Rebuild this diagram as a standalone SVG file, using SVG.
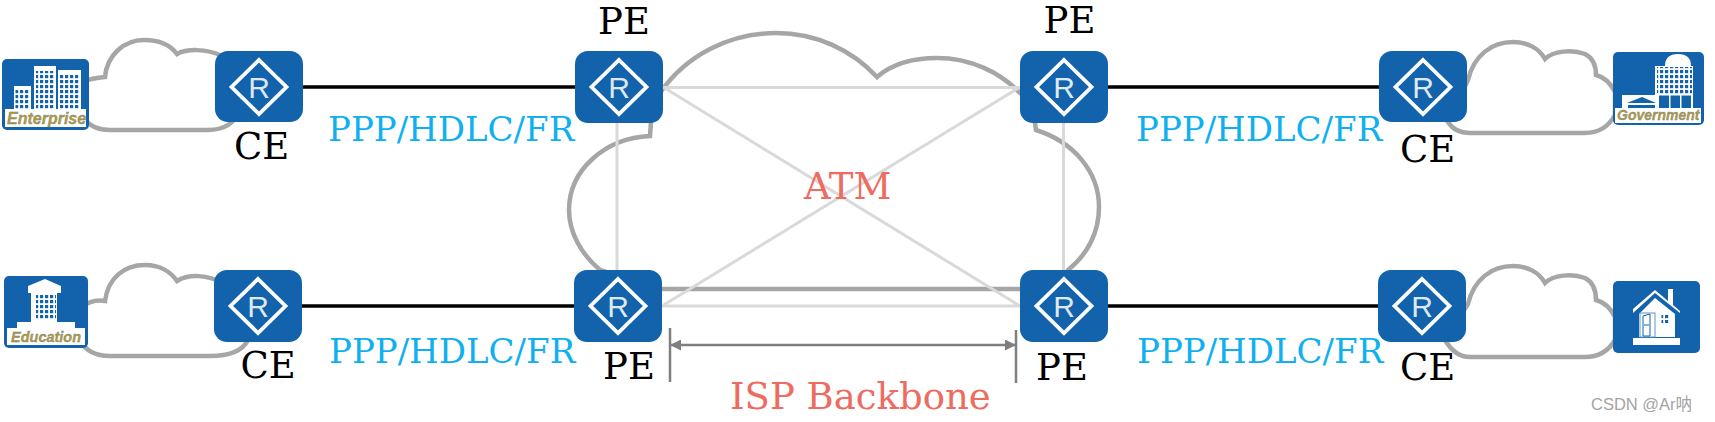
<svg xmlns="http://www.w3.org/2000/svg" width="1715" height="422" viewBox="0 0 1715 422">
<style>
.cloud{fill:#fff;stroke:#a6a6a6;stroke-width:4.5;stroke-linejoin:miter}
.wan{stroke:#000;stroke-width:3.5;fill:none}
.bb{stroke:#d9d9d9;stroke-width:3;fill:none}
.dim{stroke:#7f7f7f;stroke-width:2.500;fill:none}
.t{font-family:"DejaVu Serif",serif}
.role{font-size:37px;fill:#000}
.proto{font-size:34px;fill:#10b0f0}
.note{font-size:37px;fill:#ee6c5f}
.ib{fill:#1263ab}
.w{fill:#fff}
.cap{font-family:"Liberation Sans",Arial,sans-serif;font-weight:bold;font-style:italic;fill:#b49a3a;stroke:#6e7f90;stroke-width:.3}
.rd{fill:#1263ab;stroke:#fff;stroke-width:3.8}
.rl{font-family:"Liberation Sans",Arial,sans-serif;font-size:30px;fill:#dfe9f3;text-anchor:middle}
</style>
<defs>
<marker id="ah" viewBox="0 0 10 10" refX="10" refY="5" markerUnits="userSpaceOnUse" markerWidth="11" markerHeight="11" orient="auto-start-reverse"><path d="M0 0L10 5L0 10Z" fill="#7f7f7f"/></marker>
<pattern id="win" width="5" height="5" patternUnits="userSpaceOnUse"><rect width="3.2" height="3.2" fill="#1263ab"/></pattern>
</defs>
<rect width="1715" height="422" fill="#fff"/>

<g id="clouds">
<path class="cloud" d="M82 82Q92 78 105 77C107 55 124 40 144 40C160 40 171 46 177 54C186 49 206 48 222 56L240 110Q232 130 208 130L110 130Q92 130 84 118Z"/>
<path class="cloud" d="M82 307Q92 299 105 301C108 278 124 265 145 265C160 265 171 272 177 281C188 274 208 274 224 284L248 340Q240 356 210 356L110 356Q88 356 80 340Z"/>
<path class="cloud" d="M1468 80C1474 55 1492 42 1513 42C1527 42 1539 48 1545 59C1553 51 1572 49 1585 54C1593 58 1596 66 1596 75C1604 77 1611 84 1615 92L1615 115Q1605 133 1585 133L1470 133Q1455 133 1448 122Z"/>
<path class="cloud" d="M1468 304C1474 279 1492 266 1513 266C1527 266 1539 272 1545 283C1553 275 1572 273 1585 278C1593 282 1596 290 1596 300C1604 302 1611 309 1615 317L1615 340Q1605 357 1585 357L1470 357Q1455 357 1445 340Z"/>
<path class="cloud" d="M660 93C686 55 730 33 776 33C816 33 852 50 877 77C892 64 914 58 937 58C970 58 1000 72 1020 93L1045 110L1035 123L1036 130C1074 142 1099 172 1099 207C1099 233 1087 255 1068 270L1060 289L660 289L600 270C582 255 569 233 569 210C569 170 605 138 650 136L651 122L630 110Z"/>
</g>

<g id="connectors">
<path class="wan" d="M303 87H575M302 306H574M1108 87H1379M1108 306H1378"/>
<path class="bb" d="M663 87.500H1020M662 306H1020M617 123V270M1063.500 123V270M663 87L1020 306M1020 87L662 306"/>
<path class="dim" d="M670 328V382M1016 330V383"/>
<path class="dim" marker-start="url(#ah)" marker-end="url(#ah)" d="M670 345H1016"/>
</g>

<g id="icon-enterprise">
<rect class="ib" x="2" y="59" width="87" height="71" rx="5"/>
<rect class="w" x="14" y="86" width="17" height="26"/><rect fill="url(#win)" x="15.500" y="89" width="14" height="22"/>
<rect class="w" x="34" y="66" width="22" height="46"/><rect fill="url(#win)" x="36" y="71" width="19" height="40"/>
<rect class="w" x="58" y="70" width="23" height="42"/><rect fill="url(#win)" x="60" y="75" width="20" height="36"/>
<rect class="w" x="5" y="109" width="81" height="18"/>
<text class="cap" x="7" y="123.500" font-size="16">Enterprise</text>
</g>
<g id="icon-education">
<rect class="ib" x="4" y="276" width="84" height="72" rx="5"/>
<path class="w" d="M28 286L45 279L61 286V293H57V324H31V293H28Z"/>
<rect fill="url(#win)" x="36" y="295" width="20" height="24"/>
<rect class="w" x="17" y="322" width="58" height="6"/>
<rect class="w" x="7" y="328" width="78" height="17"/>
<text class="cap" x="11" y="342" font-size="14.500">Education</text>
</g>
<g id="icon-government">
<rect class="ib" x="1613" y="52" width="91" height="73" rx="5"/>
<path class="w" d="M1665 66Q1665 54 1678 54Q1691 54 1691 66H1693V110H1655V66Z"/>
<rect fill="url(#win)" x="1657" y="67" width="35" height="28"/>
<rect class="w" x="1622" y="95" width="36" height="20"/>
<path class="ib" d="M1627 103L1642 97L1656 103Z"/><rect class="ib" x="1628" y="105" width="27" height="8"/>
<rect class="ib" x="1659" y="95" width="32" height="17"/><rect class="w" x="1658" y="94" width="33" height="1.500"/><rect class="w" x="1669" y="95" width="1.500" height="17"/><rect class="w" x="1680" y="95" width="1.500" height="17"/>
<rect class="w" x="1615" y="108" width="86" height="15"/>
<text class="cap" x="1617" y="120" font-size="14">Government</text>
</g>
<g id="icon-home">
<rect class="ib" x="1613" y="281" width="87" height="72" rx="5"/>
<path class="w" d="M1633 313V309L1655 290L1668 301V289H1673V305L1680 311V313L1655 293Z"/>
<path class="w" d="M1639 314L1655 298L1675 314V337H1639Z"/>
<rect class="w" x="1633" y="338" width="47" height="7"/>
<rect x="1640" y="313" width="15" height="24" fill="none" stroke="#5f96c8" stroke-width="1"/>
<path d="M1643 316L1650 314V336H1643Z" fill="none" stroke="#1263ab" stroke-width="1"/>
<path d="M1644 325H1649" stroke="#1263ab"/>
<rect fill="url(#win)" x="1661.500" y="315" width="8" height="8"/>
</g>

<g id="router-ce1"><rect class="ib" x="215" y="51" width="88" height="71" rx="13"/><path class="rd" d="M259 60L286.500 87L259 114L231.500 87Z"/><text class="rl" x="259" y="98">R</text></g>
<g id="router-ce2"><rect class="ib" x="214" y="270" width="88" height="72" rx="13"/><path class="rd" d="M258 279L285.500 306L258 333L230.500 306Z"/><text class="rl" x="258" y="317">R</text></g>
<g id="router-pe1"><rect class="ib" x="575" y="51" width="88" height="72" rx="13"/><path class="rd" d="M619 60L646.500 87L619 114L591.500 87Z"/><text class="rl" x="619" y="98">R</text></g>
<g id="router-pe2"><rect class="ib" x="574" y="270" width="88" height="72" rx="13"/><path class="rd" d="M618 279L645.500 306L618 333L590.500 306Z"/><text class="rl" x="618" y="317">R</text></g>
<g id="router-pe3"><rect class="ib" x="1020" y="51" width="88" height="72" rx="13"/><path class="rd" d="M1064 60L1091.500 87L1064 114L1036.500 87Z"/><text class="rl" x="1064" y="98">R</text></g>
<g id="router-pe4"><rect class="ib" x="1020" y="270" width="88" height="72" rx="13"/><path class="rd" d="M1064 279L1091.500 306L1064 333L1036.500 306Z"/><text class="rl" x="1064" y="317">R</text></g>
<g id="router-ce3"><rect class="ib" x="1379" y="51" width="88" height="71" rx="13"/><path class="rd" d="M1423 60L1450.500 87L1423 114L1395.500 87Z"/><text class="rl" x="1423" y="98">R</text></g>
<g id="router-ce4"><rect class="ib" x="1378" y="270" width="88" height="72" rx="13"/><path class="rd" d="M1422 279L1449.500 306L1422 333L1394.500 306Z"/><text class="rl" x="1422" y="317">R</text></g>

<g id="labels">
<text class="t role" x="234" y="159">CE</text>
<text class="t role" x="240.500" y="378">CE</text>
<text class="t role" x="1400" y="162">CE</text>
<text class="t role" x="1400" y="380">CE</text>
<text class="t role" x="598" y="34">PE</text>
<text class="t role" x="1043.500" y="33">PE</text>
<text class="t role" x="603" y="379">PE</text>
<text class="t role" x="1036" y="380">PE</text>
<text class="t proto" x="328" y="141">PPP/HDLC/FR</text>
<text class="t proto" x="329" y="363">PPP/HDLC/FR</text>
<text class="t proto" x="1136" y="141">PPP/HDLC/FR</text>
<text class="t proto" x="1137" y="363">PPP/HDLC/FR</text>
<text class="t note" x="804" y="199" font-size="38">ATM</text>
<text class="t note" x="730" y="409">ISP Backbone</text>
<text x="1591" y="410" font-family="'Liberation Sans','Noto Sans CJK SC',sans-serif" font-size="16.500" fill="#a3a3a3">CSDN @Ar呐</text>
</g>
</svg>
